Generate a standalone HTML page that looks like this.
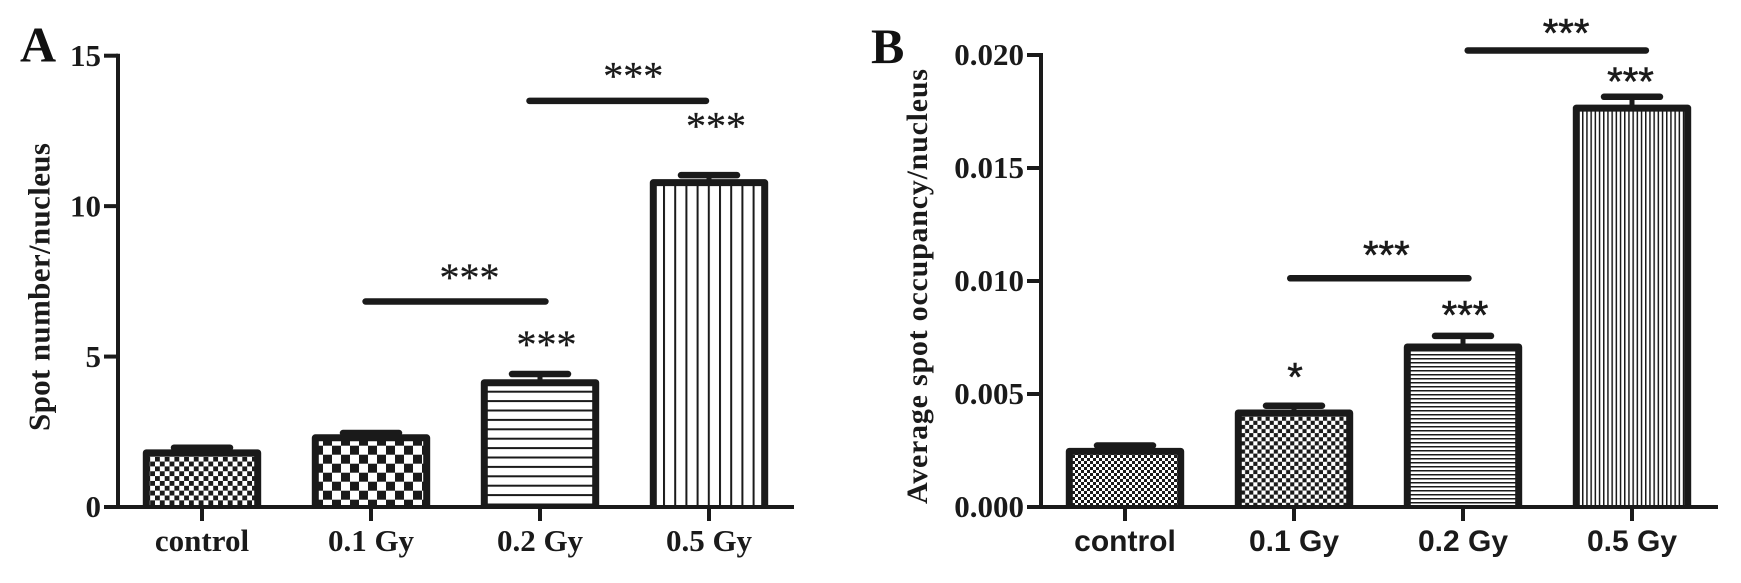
<!DOCTYPE html>
<html>
<head>
<meta charset="utf-8">
<title>Spot number and occupancy per nucleus</title>
<style>
html,body{margin:0;padding:0;background:#fff;}
svg{display:block;}
</style>
</head>
<body>
<svg id="figure" xmlns="http://www.w3.org/2000/svg" width="1741" height="583" viewBox="0 0 1741 583">
<rect width="1741" height="583" fill="#fff"/>
<defs>
<pattern id="a-fine-check" patternUnits="userSpaceOnUse" width="9.7" height="9.7" patternTransform="translate(155 456.7)"><rect width="9.7" height="9.7" fill="#fff"/><rect width="4.85" height="4.85" fill="#1a1a1a"/><rect x="4.85" y="4.85" width="4.85" height="4.85" fill="#1a1a1a"/></pattern>
<pattern id="a-coarse-check" patternUnits="userSpaceOnUse" width="18" height="18" patternTransform="translate(323 436.7)"><rect width="18" height="18" fill="#fff"/><rect width="9" height="9" fill="#1a1a1a"/><rect x="9" y="9" width="9" height="9" fill="#1a1a1a"/></pattern>
<pattern id="a-horizontal" patternUnits="userSpaceOnUse" width="9.4" height="9.4" patternTransform="translate(0 390.7)"><rect width="9.4" height="9.4" fill="#fff"/><rect width="9.4" height="2" fill="#1a1a1a"/></pattern>
<pattern id="a-vertical" patternUnits="userSpaceOnUse" width="11.2" height="11.2" patternTransform="translate(663 0)"><rect width="11.2" height="11.2" fill="#fff"/><rect width="2" height="11.2" fill="#1a1a1a"/></pattern>
<pattern id="b-fine-check" patternUnits="userSpaceOnUse" width="6" height="6" patternTransform="translate(1072 455)"><rect width="6" height="6" fill="#fff"/><rect width="3" height="3" fill="#1a1a1a"/><rect x="3" y="3" width="3" height="3" fill="#1a1a1a"/></pattern>
<pattern id="b-coarse-check" patternUnits="userSpaceOnUse" width="8.2" height="8.2" patternTransform="translate(1241 416.7)"><rect width="8.2" height="8.2" fill="#fff"/><rect width="4.1" height="4.1" fill="#1a1a1a"/><rect x="4.1" y="4.1" width="4.1" height="4.1" fill="#1a1a1a"/></pattern>
<pattern id="b-horizontal" patternUnits="userSpaceOnUse" width="4" height="4" patternTransform="translate(0 350)"><rect width="4" height="4" fill="#fff"/><rect width="4" height="1.5" fill="#1a1a1a"/></pattern>
<pattern id="b-vertical" patternUnits="userSpaceOnUse" width="4.2" height="4.2" patternTransform="translate(1582 0)"><rect width="4.2" height="4.2" fill="#fff"/><rect width="1.5" height="4.2" fill="#1a1a1a"/></pattern>
</defs>

<g id="panel-a"></g>
<g id="panel-b"></g>

<text x="20" y="61.5" font-family="'Liberation Serif',serif" font-weight="bold" font-size="50" fill="#111">A</text>
<text x="871" y="63" font-family="'Liberation Serif',serif" font-weight="bold" font-size="50" fill="#111">B</text>
<text transform="translate(49.5 431) rotate(-90)" textLength="288" font-family="'Liberation Serif',serif" font-weight="bold" font-size="31" fill="#1a1a1a">Spot number/nucleus</text>
<text transform="translate(927 504) rotate(-90)" textLength="435" font-family="'Liberation Serif',serif" font-weight="bold" font-size="30" fill="#1a1a1a">Average spot occupancy/nucleus</text>
</svg>

<script>
// Panel A data
const aCategories = ['control', '0.1 Gy', '0.2 Gy', '0.5 Gy'];
const aValues = [1.8, 2.3, 4.13, 10.78];
const aErrorTops = [1.97, 2.46, 4.42, 11.03];
const aPatterns = ['a-fine-check', 'a-coarse-check', 'a-horizontal', 'a-vertical'];
const aTicks = [0, 5, 10, 15];
const aTickLabels = ['0', '5', '10', '15'];
const aBracketStart = [0.95, 1.92];
const aBracketEnd = [2.05, 3.0];
const aBracketLevel = [6.83, 13.5];
const aBracketStars = ['***', '***'];
const aStarCategory = [2, 3];
const aStarLevel = [5.5, 12.77];
const aStarLabels = ['***', '***'];

// Panel B data
const bCategories = ['control', '0.1 Gy', '0.2 Gy', '0.5 Gy'];
const bValues = [0.00246, 0.00416, 0.00708, 0.01765];
const bErrorTops = [0.00272, 0.00448, 0.00757, 0.01815];
const bPatterns = ['b-fine-check', 'b-coarse-check', 'b-horizontal', 'b-vertical'];
const bTicks = [0, 0.005, 0.01, 0.015, 0.02];
const bTickLabels = ['0.000', '0.005', '0.010', '0.015', '0.020'];
const bBracketStart = [0.96, 2.01];
const bBracketEnd = [2.05, 3.1];
const bBracketLevel = [0.01012, 0.0202];
const bBracketStars = ['***', '***'];
const bStarCategory = [1, 2, 3];
const bStarLevel = [0.0060, 0.00874, 0.01906];
const bStarLabels = ['*', '***', '***'];

const INK = '#1a1a1a';
const SVG_NS = 'http://www.w3.org/2000/svg';

function make(parent, tag, attrs, text) {
  const el = document.createElementNS(SVG_NS, tag);
  for (const k in attrs) el.setAttribute(k, attrs[k]);
  if (text !== undefined) el.textContent = text;
  parent.appendChild(el);
  return el;
}

function drawPanel(opts) {
  const root = document.getElementById(opts.id);
  const y = v => opts.y0 - v / opts.yMax * (opts.y0 - opts.y1);
  const x = i => opts.x0 + i * 169;

  opts.values.forEach((v, i) => {
    const stem = make(root, 'line', {x1: x(i), x2: x(i), y1: y(v), y2: y(opts.errorTops[i]), stroke: INK, 'stroke-width': 5});
    
    
    const cap = make(root, 'line', {x1: x(i) - 28, x2: x(i) + 28, y1: y(opts.errorTops[i]), y2: y(opts.errorTops[i]), stroke: INK, 'stroke-width': 6.5, 'stroke-linecap': 'round'});
    
    
    const left = x(i) - 55.7, right = x(i) + 55.7;
    const bar = make(root, 'path', {d: 'M' + left + ' ' + y(0) + 'V' + y(v) + 'H' + right + 'V' + y(0), fill: 'url(#' + opts.patterns[i] + ')', stroke: INK, 'stroke-width': 7, 'stroke-linejoin': 'round'});
    
    
  });

  const yAxis = make(root, 'line', {x1: opts.axisX, x2: opts.axisX, y1: y(opts.yMax) - 2, y2: y(0) + 2, stroke: INK, 'stroke-width': 4});
  
  
  const xAxis = make(root, 'line', {x1: opts.axisX, x2: opts.axisEnd, y1: y(0), y2: y(0), stroke: INK, 'stroke-width': 4});
  
  

  opts.ticks.forEach((t, i) => {
    const tick = make(root, 'line', {x1: opts.axisX - 14, x2: opts.axisX, y1: y(t), y2: y(t), stroke: INK, 'stroke-width': 4});
    
    
    const label = make(root, 'text', {x: opts.axisX - 17, y: y(t) + opts.yLabelSize * 0.33, 'text-anchor': 'end', 'font-family': "'Liberation Serif',serif", 'font-weight': 'bold', 'font-size': opts.yLabelSize, fill: INK}, opts.tickLabels[i]);
    
    
  });

  opts.categories.forEach((c, i) => {
    const tick = make(root, 'line', {x1: x(i), x2: x(i), y1: y(0), y2: y(0) + 14, stroke: INK, 'stroke-width': 4});
    
    
    const label = make(root, 'text', {x: x(i), y: 551, 'text-anchor': 'middle', 'font-family': opts.xFont, 'font-weight': 'bold', 'font-size': opts.xLabelSize, fill: INK}, c);
    
    
  });

  opts.bracketLevel.forEach((lvl, i) => {
    const x1 = x(opts.bracketStart[i]), x2 = x(opts.bracketEnd[i]);
    const line = make(root, 'line', {x1: x1 + 3, x2: x2 - 3, y1: y(lvl), y2: y(lvl), stroke: INK, 'stroke-width': 6.5, 'stroke-linecap': 'round'});
    
    
    const stars = make(root, 'text', {x: (x1 + x2) / 2 + opts.bracketStarShift[i], y: y(lvl) - opts.bracketStarGap[i] + opts.starDrop, 'text-anchor': 'middle', 'font-family': opts.starFont, 'font-size': 40, fill: INK, stroke: INK, 'stroke-width': opts.starStroke}, opts.bracketStars[i]);
    
    
  });

  opts.starLevel.forEach((lvl, i) => {
    const stars = make(root, 'text', {x: x(opts.starCategory[i]) + opts.starShift[i], y: y(lvl) + opts.starDrop, 'text-anchor': 'middle', 'font-family': opts.starFont, 'font-size': 40, fill: INK, stroke: INK, 'stroke-width': opts.starStroke}, opts.starLabels[i]);
    
    
  });
}

drawPanel({
  id: 'panel-a', x0: 202, y0: 507, y1: 55.7, yMax: 15, axisX: 118, axisEnd: 794,
  yLabelSize: 31, xLabelSize: 31, xFont: "'Liberation Serif',serif",
  starFont: "'Liberation Serif',serif", starStroke: 0.3, starDrop: 16.5,
  starShift: [6.5, 7], bracketStarShift: [14, 15.5], bracketStarGap: [27, 28],
  categories: aCategories, values: aValues, errorTops: aErrorTops, patterns: aPatterns,
  ticks: aTicks, tickLabels: aTickLabels,
  bracketStart: aBracketStart, bracketEnd: aBracketEnd, bracketLevel: aBracketLevel, bracketStars: aBracketStars,
  starCategory: aStarCategory, starLevel: aStarLevel, starLabels: aStarLabels
});

drawPanel({
  id: 'panel-b', x0: 1125, y0: 507, y1: 55, yMax: 0.02, axisX: 1041, axisEnd: 1718,
  yLabelSize: 31, xLabelSize: 30, xFont: "'Liberation Sans',sans-serif",
  starFont: "'Liberation Sans',sans-serif", starStroke: 0.6, starDrop: 19,
  starShift: [1, 2, -1.5], bracketStarShift: [7, 9.3], bracketStarGap: [28.6, 23],
  categories: bCategories, values: bValues, errorTops: bErrorTops, patterns: bPatterns,
  ticks: bTicks, tickLabels: bTickLabels,
  bracketStart: bBracketStart, bracketEnd: bBracketEnd, bracketLevel: bBracketLevel, bracketStars: bBracketStars,
  starCategory: bStarCategory, starLevel: bStarLevel, starLabels: bStarLabels
});
</script>
</body>
</html>
